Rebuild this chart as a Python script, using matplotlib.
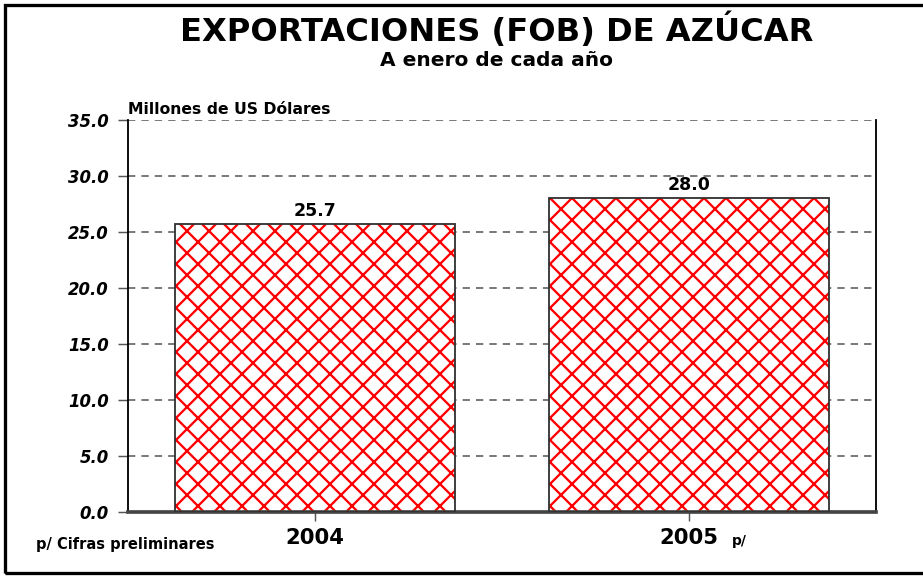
import matplotlib
matplotlib.use("Agg")
from matplotlib import pyplot
from matplotlib.patches import Rectangle

DPI = 132

years = ["2004", "2005"]
values = [25.7, 28.0]
yticks = [0, 5, 10, 15, 20, 25, 30, 35]

title = "EXPORTACIONES (FOB) DE AZÚCAR"
subtitle = "A enero de cada año"
unit_label = "Millones de US Dólares"
note = "p/ Cifras preliminares"
prelim_mark = "p/"

pyplot.rcParams["font.family"] = ["DejaVu Sans"]
pyplot.rcParams["font.weight"] = "bold"
pyplot.rcParams["hatch.linewidth"] = 1.25

fig = pyplot.figure(figsize=(923 / DPI, 576 / DPI), dpi=DPI)
ax = fig.add_axes([128 / 923, 64 / 576, 748 / 923, 392 / 576])

x = list(range(len(years)))
# hatch in red, outline drawn separately in dark grey
ax.bar(x, values, width=0.75, color="white", edgecolor="red", linewidth=0,
       hatch="xx", zorder=2)
ax.bar(x, values, width=0.75, fill=False, edgecolor="#333333", linewidth=1.0,
       zorder=3)

for xi, v in zip(x, values):
    ax.text(xi, v + 0.35, "%.1f" % v, ha="center", va="bottom",
            fontsize=9.5, fontweight="bold")

ax.set_xlim(-0.5, len(years) - 0.5)
ax.set_ylim(0, 35)
ax.set_yticks(yticks)
ax.set_yticklabels(["%.1f" % t for t in yticks], fontsize=9,
                   fontweight="bold", fontstyle="italic")
ax.set_xticks(x)
ax.set_xticklabels(years, fontsize=11.5, fontweight="bold")
ax.tick_params(axis="y", length=5.5, color="#555555", pad=5)
ax.tick_params(axis="x", length=5, color="#555555", pad=4)

ax.yaxis.grid(True, linestyle=(0, (4, 3.3)), color="#707070", linewidth=1.0, zorder=1)
ax.set_axisbelow(True)

for side in ["left", "right"]:
    ax.spines[side].set_color("black")
    ax.spines[side].set_linewidth(1.0)
ax.spines["top"].set_visible(False)
ax.spines["bottom"].set_color("#444444")
ax.spines["bottom"].set_linewidth(2.0)

ax.text(0.0, 1.008, unit_label, transform=ax.transAxes, fontsize=8.5,
        fontweight="bold", ha="left", va="bottom")

fig.text(732 / 923, 1 - 541 / 576, prelim_mark, fontsize=7.5, fontweight="bold",
         ha="left", va="center")
fig.text(36 / 923, 1 - 544 / 576, note, fontsize=8, fontweight="bold",
         ha="left", va="center")

fig.text(497 / 923, 1 - 30 / 576, title, fontsize=17.5, fontweight="bold",
         ha="center", va="center")
fig.text(497 / 923, 1 - 61 / 576, subtitle, fontsize=11, fontweight="bold",
         ha="center", va="center")

# outer frame
fig.patches.append(Rectangle((5 / 923, 3 / 576), 1.0, 1 - 8 / 576,
                             transform=fig.transFigure, fill=False,
                             edgecolor="black", linewidth=1.8))

fig.savefig("out.png", dpi=DPI, facecolor="white")
